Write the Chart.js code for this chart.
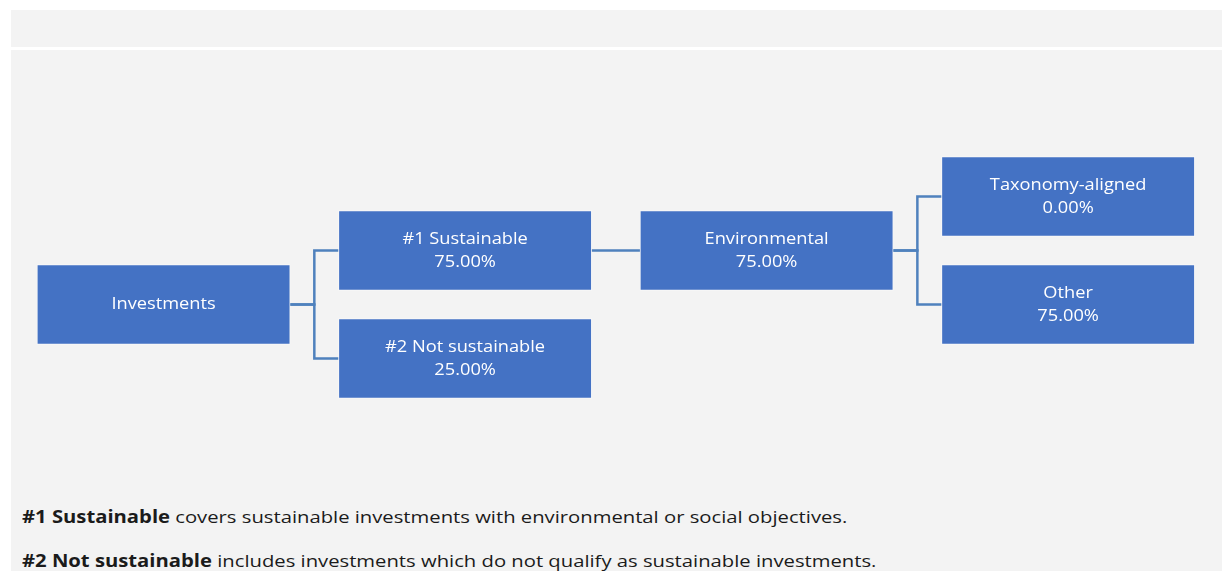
<!DOCTYPE html>
<html>
<head>
<meta charset="utf-8">
<script src="https://cdn.jsdelivr.net/npm/chart.js@4.4.1/dist/chart.umd.min.js"></script>
<style>
  html, body { margin: 0; padding: 0; background: #fff; width: 1226px; height: 571px; overflow: hidden; }
  .strip { position: absolute; left: 11px; top: 10px; width: 1211px; height: 37px; background: #f3f3f3; }
  .panel { position: absolute; left: 11px; top: 50px; width: 1211px; height: 530px; background: #f3f3f3; }
  #wrap { position: absolute; left: 11px; top: 50px; width: 1210px; height: 420px; }
  .note { position: absolute; left: 22px; font-family: "Open Sans", sans-serif; font-size: 17px; color: #1b1b1b;
          white-space: nowrap; transform: scaleX(1.19); transform-origin: 0 50%; }
  .note b { font-weight: 700; }
</style>
</head>
<body>
<div class="strip"></div>
<div class="panel"></div>
<div id="wrap"><canvas id="tree"></canvas></div>
<div class="note" style="top:505px"><b>#1 Sustainable</b> covers sustainable investments with environmental or social objectives.</div>
<div class="note" style="top:549px"><b>#2 Not sustainable</b> includes investments which do not qualify as sustainable investments.</div>
<script>
// tree nodes: label, share (%), column, row slot, parent index
const nodeLabels = ["Investments", "#1 Sustainable", "#2 Not sustainable", "Environmental", "Taxonomy-aligned", "Other"]
const nodeShares = [null, 75.00, 25.00, 75.00, 0.00, 75.00]
const nodeLevels = [0, 1, 1, 2, 3, 3]
const nodeRows = [2, 1, 3, 1, 0, 2]
const nodeParents = [-1, 0, 0, 1, 3, 3]

const halfW = 0.42   // half box width in column units
const boxColor = "#4472c4"
const lineColor = "#4f81bd"

const boxes = nodeLabels.map((name, i) => ({
    x: [nodeLevels[i] - halfW, nodeLevels[i] + halfW],
    y: nodeRows[i]
}))

// elbow connectors parent -> child
const links = []
nodeParents.forEach((p, i) => {
    if (p < 0) return
    const mid = nodeLevels[p] + 0.5
    links.push({
        type: "line",
        order: 1,
        data: [
            { x: nodeLevels[p] + halfW, y: nodeRows[p] },
            { x: mid, y: nodeRows[p] },
            { x: mid, y: nodeRows[i] },
            { x: nodeLevels[i] - halfW, y: nodeRows[i] }
        ],
        borderColor: lineColor,
        borderWidth: 2.5,
        pointRadius: 0,
        tension: 0,
        fill: false,
        borderJoinStyle: "miter"
    })
})

// the reference text is a bit wider than plain Open Sans, so stretch it a little
const stretch = 1.14

const boxText = {
    id: "boxText",
    afterDatasetsDraw(chart) {
        const ctx = chart.ctx
        const meta = chart.getDatasetMeta(0)
        ctx.save()
        ctx.fillStyle = "#ffffff"
        ctx.font = "16px 'Open Sans'"
        ctx.textAlign = "center"
        ctx.textBaseline = "middle"
        meta.data.forEach((bar, i) => {
            const cx = (bar.x + bar.base) / 2
            const cy = bar.y
            ctx.save()
            ctx.translate(cx, cy)
            ctx.scale(stretch, 1)
            if (nodeShares[i] === null) {
                ctx.fillText(nodeLabels[i], 0, 0)
            } else {
                ctx.fillText(nodeLabels[i], 0, -11.5)
                ctx.fillText(nodeShares[i].toFixed(2) + "%", 0, 11.5)
            }
            ctx.restore()
        })
        ctx.restore()
    }
}

new Chart(document.getElementById("tree"), {
    type: "scatter",
    data: {
        datasets: [{
            type: "bar",
            indexAxis: "y",
            order: 0,
            data: boxes,
            backgroundColor: boxColor,
            borderColor: "rgba(255,255,255,0.45)",
            borderWidth: 1,
            borderSkipped: false,
            barThickness: 80
        }, ...links]
    },
    options: {
        responsive: true,
        maintainAspectRatio: false,
        animation: false,
        layout: { padding: 0 },
        plugins: { legend: { display: false }, tooltip: { enabled: false } },
        scales: {
            x: { type: "linear", display: false, offset: false, min: -0.506, max: 3.507 },
            y: { type: "linear", display: false, offset: false, reverse: true, min: -2.713, max: 5.065 }
        }
    },
    plugins: [boxText]
});
</script>
</body>
</html>
